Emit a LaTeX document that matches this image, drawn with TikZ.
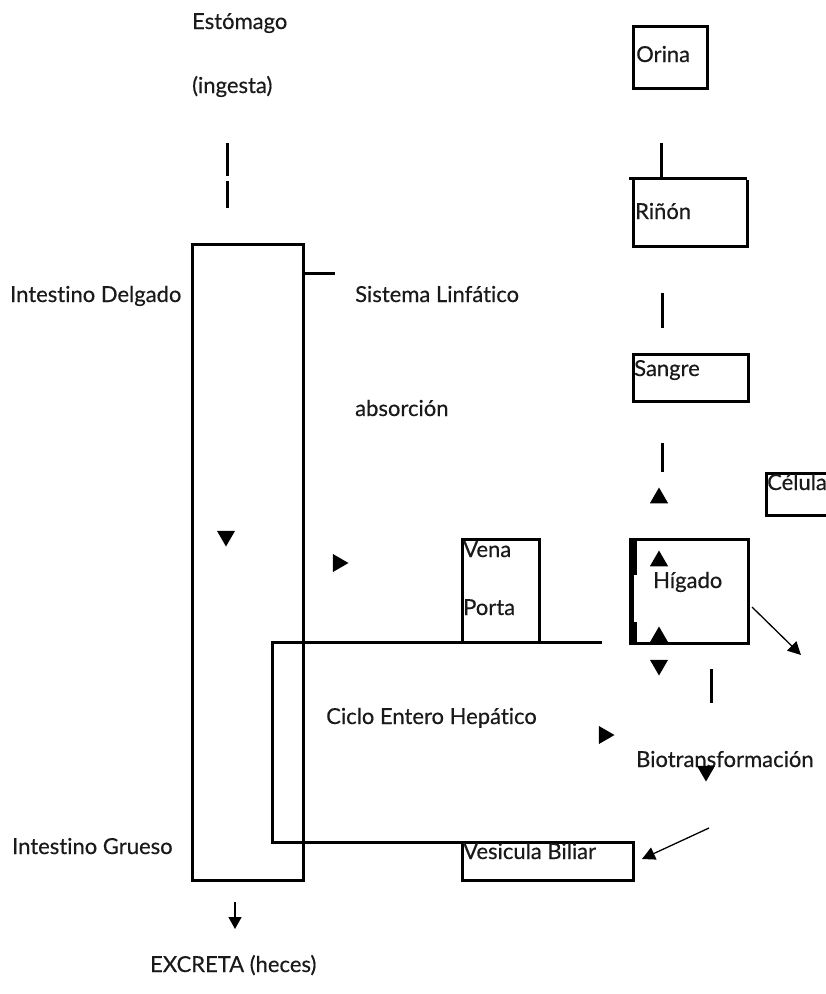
\documentclass[tikz,border=0pt]{standalone}
\usepackage{fontspec}
\setmainfont{Lato}[FakeBold=0.4,Ligatures={NoCommon}]
\usetikzlibrary{shapes.geometric,arrows.meta}
\definecolor{ink}{HTML}{1A1A1A}
\tikzset{
  lbl/.style={anchor=base west, inner sep=0pt, text=ink, font=\fontsize{22}{25}\selectfont},
  frame/.style={draw=black, line width=3pt},
  bar/.style={draw=black, line width=3pt},
  tri/.style={regular polygon, regular polygon sides=3, fill=black, draw=none,
              minimum size=21pt, inner sep=0pt},
  tridown/.style={tri, shape border rotate=180},
  triright/.style={tri, shape border rotate=-90},
  thinarrow/.style={draw=black, line width=1.3pt, -{Triangle[length=13pt,width=13pt]}}
}
\begin{document}
\begin{tikzpicture}[x=1pt,y=-1pt]
\path[use as bounding box] (0,0) rectangle (826,994);

% --- digestive tract ---
\node[lbl] (estomago) at (192,29) {Estómago};
\node[lbl] (ingesta) at (192,93) {(ingesta)};
\coordinate (s1a) at (227,143); \coordinate (s1b) at (227,176);
\coordinate (s2a) at (227,181); \coordinate (s2b) at (227,208);
\draw[bar] (s1a) -- (s1b);
\draw[bar] (s2a) -- (s2b);

\draw[frame] (192,244) rectangle (303,880);
\coordinate (linfA) at (303,273); \coordinate (linfB) at (335,273);
\draw[bar] (linfA) -- (linfB);
\node[lbl] (delgado) at (10,302) {Intestino Delgado};
\node[lbl] (linfatico) at (355,302) {Sistema Linfático};
\node[lbl] (absorcion) at (355,416) {absorción};
\node[lbl] (grueso) at (12,854) {Intestino Grueso};

\node[tridown] (t1) at (226,536) {};
\node[triright] (t2) at (338,563) {};

% excretion arrow
\coordinate (exA) at (235,902); \coordinate (exB) at (235,929);
\draw[draw=black, line width=1.3pt, -{Triangle[length=12pt,width=13pt]}] (exA) -- (exB);
\node[lbl] (excreta) at (150,972) {EXCRETA (heces)};

% --- portal vein and enterohepatic cycle ---
\draw[frame] (462,539) rectangle (539,642);
\node[lbl] (vena) at (463,557) {Vena};
\node[lbl] (porta) at (463,615) {Porta};
\draw[frame] (602,642) -| (272,842) -- (462,842);
\draw[frame] (462,842) rectangle (633,880);
\node[lbl] (vesicula) at (463,859) {Vesicula Biliar};
\node[lbl] (ciclo) at (326,724) {Ciclo Entero Hepático};
\node[triright] (t3) at (604,735) {};

% --- kidney column ---
\draw[frame] (633,26) rectangle (707,88);
\node[lbl] (orina) at (636,62) {Orina};
\coordinate (k1a) at (661,143); \coordinate (k1b) at (661,178);
\draw[bar] (k1a) -- (k1b);
\draw[bar] (629,178) -- (747,178);
\draw[frame] (633,180) |- (747,246) -- (747,180);
\node[lbl] (rinon) at (635,219) {Riñón};
\coordinate (k2a) at (662,293); \coordinate (k2b) at (662,328);
\draw[bar] (k2a) -- (k2b);
\draw[frame] (633,354) rectangle (748,401);
\node[lbl] (sangre) at (634,376) {Sangre};
\coordinate (k3a) at (662,443); \coordinate (k3b) at (662,472);
\draw[bar] (k3a) -- (k3b);
\node[tri] (t4) at (659,498) {};

% cell
\draw[frame] (834,473) -| (766,515) -- (834,515);
\node[lbl] (celula) at (767,490) {Célula};

% liver
\draw[frame] (630,539) rectangle (748,643);
\fill[black] (628.5,537.5) rectangle (636.5,575);
\fill[black] (628.5,622) rectangle (636.5,644.5);
\fill[black] (628.5,575) rectangle (634,622);
\node[lbl] (higado) at (653,588) {Hígado};
\node[tri] (t5) at (659,561) {};
\node[tri] (t6) at (659,637) {};
\node[tridown] (t7) at (659,665) {};
\coordinate (hA) at (752,607); \coordinate (hB) at (801,655);
\draw[thinarrow] (hA) -- (hB);

% biotransformation
\coordinate (b1a) at (711,669); \coordinate (b1b) at (711,703);
\draw[bar] (b1a) -- (b1b);
\node[lbl] (biotrans) at (636,767) {Biotransformación};
\node[tridown] (t8) at (706,771) {};
\coordinate (vA) at (709,828); \coordinate (vB) at (642,859);
\draw[thinarrow] (vA) -- (vB);
\end{tikzpicture}
\end{document}
